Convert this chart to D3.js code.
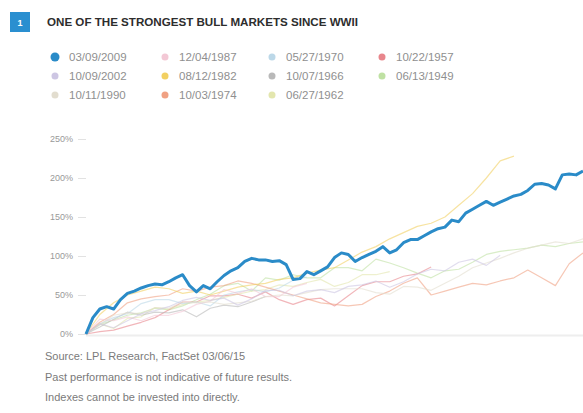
<!DOCTYPE html>
<html>
<head>
<meta charset="utf-8">
<script src="https://cdn.jsdelivr.net/npm/d3@7"></script>
<style>
  body { margin: 0; background: #fff; }
  svg { display: block; font-family: "Liberation Sans", Arial, sans-serif; }
</style>
</head>
<body>
<script>
(function(){

	// start dates of each bull market, legend order (column by column)
	var dates = ['03/09/2009', '10/09/2002', '10/11/1990', '12/04/1987', '08/12/1982',
	             '10/03/1974', '05/27/1970', '10/07/1966', '06/27/1962', '10/22/1957', '06/13/1949'];

	// cumulative gain (%) - current market sampled every month
	var s2009 = [0, 21, 32, 35, 32, 44, 52, 55, 59, 62, 64, 63, 67, 72, 76, 62, 54, 62, 58, 67,
	             75, 81, 85, 93, 97, 95, 95, 93, 94, 89, 70, 71, 80, 76, 81, 86, 98, 104, 102, 93,
	             98, 102, 106, 112, 104, 108, 117, 121, 121, 126, 131, 135, 137, 146, 144, 155, 160, 165, 170, 165,
	             169, 173, 177, 179, 184, 192, 193, 191, 186, 204, 205, 204, 209];

	// older markets sampled every 2 months
	var s2002 = [0, 13, 8, 17, 26, 30, 35, 43, 47, 43, 46, 37, 45, 56, 56, 49, 55, 57, 53, 61, 63, 68, 60, 67, 77, 83, 81, 92, 96, 88, 101];
	var s1990 = [0, 12, 24, 27, 26, 34, 33, 41, 40, 41, 38, 40, 42, 48, 50, 49, 53, 57, 58, 58, 58, 53, 51, 61, 60, 56, 65, 74, 85, 91, 97, 104, 110, 114, 118, 116, 122];
	var s1987 = [0, 19, 17, 22, 17, 24, 24, 29, 38, 42, 57, 52, 58, 48, 48, 60, 65];
	var s1982 = [0, 25, 40, 50, 55, 60, 58, 52, 55, 50, 55, 60, 63, 65, 70, 72, 78, 82, 85, 95, 105, 112, 122, 130, 138, 142, 150, 165, 180, 200, 222, 228];
	var s1974 = [0, 15, 25, 40, 45, 48, 50, 58, 55, 60, 62, 68, 65, 60, 55, 50, 45, 40, 38, 36, 38, 48, 55, 65, 72, 50, 55, 60, 65, 63, 68, 72, 82, 72, 62, 90, 104];
	var s1970 = [0, 13, 21, 26, 39, 44, 44, 39, 41, 36, 50, 54, 57, 54, 59, 69, 73];
	var s1966 = [0, 9, 19, 28, 24, 28, 27, 31, 22, 33, 37, 35, 41, 48];
	var s1962 = [0, 13, 7, 20, 22, 34, 32, 38, 41, 43, 47, 51, 55, 57, 63, 61, 66, 70, 61, 66, 76, 76, 80];
	var s1957 = [0, 3, 5, 10, 15, 21, 31, 41, 41, 49, 49, 51, 46, 54, 44, 38, 44, 46, 36, 49, 62, 67, 67, 74, 77, 86];
	var s1949 = [0, 12, 18, 24, 27, 33, 31, 36, 44, 51, 62, 65, 55, 72, 69, 76, 72, 72, 85, 85, 81, 96, 91, 85, 78, 72, 81, 83, 92, 102, 106, 108, 110, 114, 112, 116, 118];

	var yTicks = [0, 50, 100, 150, 200, 250];

	var footnotes = ['Source: LPL Research, FactSet 03/06/15',
	                 'Past performance is not indicative of future results.',
	                 'Indexes cannot be invested into directly.'];

	// colours per legend entry
	var colors = ['#2a8bc8', '#cdc6e3', '#e2ddcf', '#f3c8d5', '#f2d062', '#f0a183',
	              '#bcd8e8', '#b9b9b9', '#e3e6ae', '#e8868c', '#bfe1a3'];

	var series = [
		{ values: s2009, step: 1 },
		{ values: s2002, step: 2 },
		{ values: s1990, step: 2 },
		{ values: s1987, step: 2 },
		{ values: s1982, step: 2 },
		{ values: s1974, step: 2 },
		{ values: s1970, step: 2 },
		{ values: s1966, step: 2 },
		{ values: s1962, step: 2 },
		{ values: s1957, step: 2 },
		{ values: s1949, step: 2 }
	];

	var width = 583, height = 413;

	var svg = d3.select('body').append('svg')
		.attr('width', width)
		.attr('height', height);

	// header: numbered badge + title
	svg.append('rect')
		.attr('x', 10).attr('y', 12).attr('width', 20).attr('height', 20)
		.attr('fill', '#2a8fd0');
	svg.append('text')
		.attr('x', 20).attr('y', 25.5)
		.attr('text-anchor', 'middle')
		.attr('fill', '#fff')
		.style('font-size', '9px')
		.style('font-weight', 'bold')
		.text('1');
	svg.append('text')
		.attr('x', 47).attr('y', 26)
		.attr('fill', '#2d2d2d')
		.attr('textLength', 311)
		.attr('lengthAdjust', 'spacingAndGlyphs')
		.style('font-size', '10.5px')
		.style('font-weight', 'bold')
		.text('ONE OF THE STRONGEST BULL MARKETS SINCE WWII');

	// legend: 4 columns x 3 rows, filled column by column
	var colX = [55, 165, 272, 382];
	var rowY = [57, 76, 95];
	var legend = svg.append('g');
	dates.forEach(function(d, i){
		var cx = colX[Math.floor(i / 3)], cy = rowY[i % 3];
		legend.append('circle')
			.attr('cx', cx).attr('cy', cy)
			.attr('r', i === 0 ? 4.5 : 3.5)
			.attr('fill', colors[i]);
		legend.append('text')
			.attr('x', cx + 14).attr('y', cy + 4)
			.attr('fill', '#8f8f8f')
			.style('font-size', '11.5px')
			.text(d);
	});

	// scales
	var x = d3.scaleLinear().domain([0, 72]).range([86, 583]);
	var y = d3.scaleLinear().domain([0, 250]).range([334, 139]);

	// y axis: labels + short tick dashes, no domain line
	var yAxis = svg.append('g')
		.attr('transform', 'translate(86,0)')
		.call(d3.axisLeft(y).tickValues(yTicks).tickSize(8).tickPadding(5)
			.tickFormat(function(d){ return d + '%'; }));
	yAxis.select('.domain').remove();
	yAxis.selectAll('line').attr('stroke', '#e2e2e2');
	yAxis.selectAll('text')
		.attr('fill', '#999')
		.style('font-size', '9px')
		.style('font-family', '"Liberation Sans", Arial, sans-serif');

	// baseline
	svg.append('line')
		.attr('x1', 86).attr('x2', 583)
		.attr('y1', y(0) + 1.5).attr('y2', y(0) + 1.5)
		.attr('stroke', '#eeeeee')
		.attr('stroke-width', 2);

	var line = d3.line()
		.x(function(d){ return x(d.m); })
		.y(function(d){ return y(d.v); });

	// draw older markets first so the current one sits on top
	series.slice().reverse().forEach(function(s, k){
		var i = series.length - 1 - k;
		var pts = s.values.map(function(v, j){ return { m: j * s.step, v: v }; });
		svg.append('path')
			.datum(pts)
			.attr('d', line)
			.attr('fill', 'none')
			.attr('stroke', colors[i])
			.attr('stroke-width', i === 0 ? 3 : 1.2)
			.attr('stroke-linejoin', 'round')
			.style('opacity', i === 0 ? 1 : 0.6);
	});

	// footnotes
	svg.append('g').selectAll('text')
		.data(footnotes)
		.enter().append('text')
		.attr('x', 45)
		.attr('y', function(d, i){ return 360 + i * 20.5; })
		.attr('fill', '#7a7a7a')
		.style('font-size', '11px')
		.text(function(d){ return d; });

})();
</script>
</body>
</html>
